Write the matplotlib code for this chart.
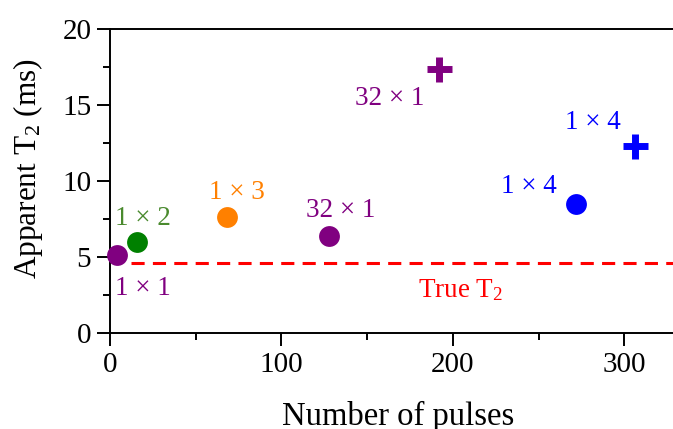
import matplotlib
matplotlib.use("Agg")
import matplotlib.pyplot as plt

# data
circ_pulses = [4, 16, 68, 128, 272]
circ_t2 = [5.1, 6.0, 7.6, 6.4, 8.5]
circ_colors = ['#800080', '#008000', '#ff8000', '#800080', '#0000ff']

cross_pulses = [192, 306]
cross_t2 = [17.4, 12.3]
cross_colors = ['#800080', '#0000ff']

true_t2 = 4.63

# label text, anchor (left, baseline) and colour
labels = ['1 \u00d7 1', '1 \u00d7 2', '1 \u00d7 3', '32 \u00d7 1', '32 \u00d7 1', '1 \u00d7 4', '1 \u00d7 4']
label_x = [3, 3, 57.5, 114.5, 143, 265.5, 228]
label_y = [2.5, 7.1, 8.8, 7.6, 15.0, 13.4, 9.2]
label_colors = ['#800080', '#4a8a2e', '#ff8000', '#800080', '#800080', '#0000ff', '#0000ff']

plt.rcParams['font.family'] = ['Liberation Serif', 'DejaVu Serif']
plt.rcParams['mathtext.fontset'] = 'custom'
plt.rcParams['mathtext.rm'] = 'Liberation Serif'
plt.rcParams['mathtext.it'] = 'Liberation Serif:italic'

fig = plt.figure(figsize=(6.73, 4.29), dpi=100)
ax = fig.add_axes([0.1635, 0.2238, 0.8405, 0.7086])

# true T2 line
ax.plot([12, 330], [true_t2, true_t2], color='#ff0000', lw=2.2, dashes=(4.3, 2.7), zorder=1)

for x, y, c in zip(circ_pulses, circ_t2, circ_colors):
    ax.plot(x, y, 'o', ms=15, color=c, mec='none', zorder=3, clip_on=False)
for x, y, c in zip(cross_pulses, cross_t2, cross_colors):
    ax.plot(x, y, '+', ms=18, mew=5, color=c, zorder=3)

for t, x, y, c in zip(labels, label_x, label_y, label_colors):
    ax.text(x, y, t, color=c, fontsize=19.5, ha='left', va='baseline')
ax.text(179.5, 2.39, 'True T$_2$', color='#ff0000', fontsize=19.5, ha='left', va='baseline')

ax.set_xlim(0, 330)
ax.set_ylim(0, 20)
ax.set_xticks([0, 100, 200, 300])
ax.set_xticks([50, 150, 250], minor=True)
ax.set_yticks([0, 5, 10, 15, 20])
ax.set_yticks([2.5, 7.5, 12.5, 17.5], minor=True)
ax.tick_params(which='major', length=9.5, width=1.4, labelsize=21, pad=4)
ax.tick_params(which='minor', length=5, width=1.4)
ax.tick_params(top=False, right=False, which='both')
for s in ax.spines.values():
    s.set_linewidth(1.4)

ax.set_xlabel('Number of pulses', fontsize=23.5)
ax.xaxis.set_label_coords(0.509, -0.225)
ax.set_ylabel('Apparent T$_2$ (ms)', fontsize=22.5)
ax.yaxis.set_label_coords(-0.115, 0.54)

fig.savefig('out.png', dpi=100)
